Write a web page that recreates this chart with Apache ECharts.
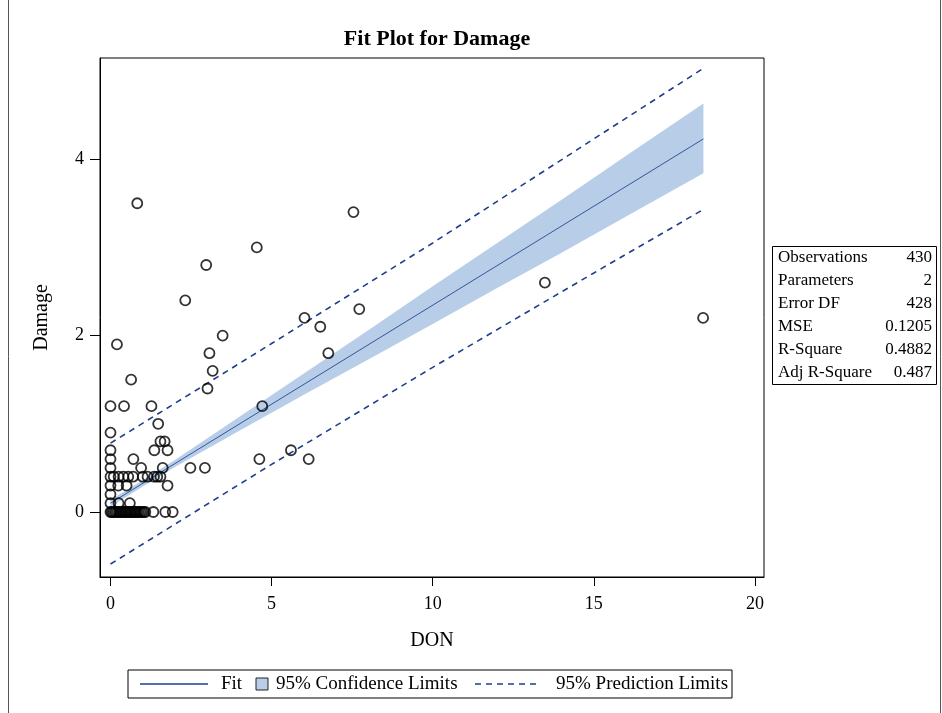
<!DOCTYPE html>
<html>
<head>
<meta charset="utf-8">
<title>Fit Plot for Damage</title>
<script src="https://cdn.jsdelivr.net/npm/echarts@6/dist/echarts.min.js"></script>
<style>
  html, body { margin: 0; padding: 0; background: #ffffff; }
  #chart { width: 942px; height: 713px; }
</style>
</head>
<body>
<div id="chart"></div>
<script>
// Observed DON / Damage pairs
const obsDON = [
  0.83, 7.54, 4.54, 2.97, 13.48, 2.32, 7.72, 6.02, 18.39, 6.51, 3.48, 0.20, 3.07, 6.76, 3.17, 0.64, 3.01,
  0, 0.42, 1.27, 4.71, 1.48, 0, 1.55, 1.68, 0, 1.36, 1.77, 5.60, 0, 0.71, 4.62, 6.15,
  0, 0.95, 1.62, 2.48, 2.93,
  0, 0.10, 0.25, 0.40, 0.55, 0.70, 1.00, 1.15, 1.35, 1.45, 1.55,
  0, 0.24, 0.50, 1.77,
  0,
  0, 0.25, 0.60,
  0, 0.04, 0.08, 0.13, 0.17, 0.22, 0.27, 0.31, 0.36, 0.41, 0.46, 0.50, 0.55, 0.60,
  0.64, 0.69, 0.74, 0.78, 0.83, 0.88, 0.93, 0.98, 1.03, 1.08, 1.33, 1.70, 1.93
];
const obsDamage = [
  3.5, 3.4, 3.0, 2.8, 2.6, 2.4, 2.3, 2.2, 2.2, 2.1, 2.0, 1.9, 1.8, 1.8, 1.6, 1.5, 1.4,
  1.2, 1.2, 1.2, 1.2, 1.0, 0.9, 0.8, 0.8, 0.7, 0.7, 0.7, 0.7, 0.6, 0.6, 0.6, 0.6,
  0.5, 0.5, 0.5, 0.5, 0.5,
  0.4, 0.4, 0.4, 0.4, 0.4, 0.4, 0.4, 0.4, 0.4, 0.4, 0.4,
  0.3, 0.3, 0.3, 0.3,
  0.2,
  0.1, 0.1, 0.1,
  0, 0, 0, 0, 0, 0, 0, 0, 0, 0, 0, 0, 0, 0,
  0, 0, 0, 0, 0, 0, 0, 0, 0, 0, 0, 0, 0
];

// Fitted regression line
const fitDON = [0, 18.4];
const fitDamage = [0.10, 4.23];

// 95% confidence band for the mean
const bandDON   = [0,    1,    2,    4,    6,    8,    10,   12,   14,   16,   18.4];
const bandLower = [0.06, 0.29, 0.51, 0.92, 1.33, 1.73, 2.13, 2.54, 2.94, 3.35, 3.84];
const bandUpper = [0.14, 0.36, 0.59, 1.08, 1.57, 2.06, 2.56, 3.05, 3.54, 4.04, 4.63];

// 95% prediction limits
const predDON   = [0,     5,    10,   15,   18.4];
const predLower = [-0.59, 0.54, 1.64, 2.71, 3.43];
const predUpper = [0.78,  1.91, 3.05, 4.23, 5.03];

// Axis tick values
const donTicks = [0, 5, 10, 15, 20];
const damageTicks = [0, 2, 4];

// Fit statistics table
const statLabels = ['Observations', 'Parameters', 'Error DF', 'MSE', 'R-Square', 'Adj R-Square'];
const statValues = ['430', '2', '428', '0.1205', '0.4882', '0.487'];

const SERIF = '"Liberation Serif", "Times New Roman", serif';
const NAVY = '#1f3f8c';
const BAND = '#b8cee8';

const pairs = (xs, ys) => xs.map((x, i) => [x, ys[i]]);

const chart = echarts.init(document.getElementById('chart'), null, { renderer: 'canvas' });

const tableGraphics = [];
tableGraphics.push({
  type: 'rect', left: 772, top: 246,
  shape: { width: 164, height: 138 },
  style: { fill: '#fff', stroke: '#000', lineWidth: 1 }
});
statLabels.forEach((lab, i) => {
  const y = 258 + i * 23;
  tableGraphics.push({
    type: 'text', x: 778, y: y,
    style: { text: lab, font: '17px ' + SERIF, fill: '#000', verticalAlign: 'middle', align: 'left' }
  });
  tableGraphics.push({
    type: 'text', x: 932, y: y,
    style: { text: statValues[i], font: '17px ' + SERIF, fill: '#000', verticalAlign: 'middle', align: 'right' }
  });
});

const legendY = 684;
const legendGraphics = [
  { type: 'rect', shape: { x: 128, y: 670, width: 604, height: 28 },
    style: { fill: '#fff', stroke: '#000', lineWidth: 1 } },
  { type: 'line', shape: { x1: 140, y1: legendY, x2: 208, y2: legendY },
    style: { stroke: NAVY, lineWidth: 1.3 } },
  { type: 'text', x: 221, y: legendY,
    style: { text: 'Fit', font: '19px ' + SERIF, fill: '#000', verticalAlign: 'middle' } },
  { type: 'rect', shape: { x: 256, y: 678, width: 12, height: 12 },
    style: { fill: BAND, stroke: '#222', lineWidth: 1 } },
  { type: 'text', x: 276, y: legendY,
    style: { text: '95% Confidence Limits', font: '19px ' + SERIF, fill: '#000', verticalAlign: 'middle' } },
  { type: 'line', shape: { x1: 475, y1: legendY, x2: 540, y2: legendY },
    style: { stroke: NAVY, lineWidth: 1.6, lineDash: [6, 5] } },
  { type: 'text', x: 556, y: legendY,
    style: { text: '95% Prediction Limits', font: '19px ' + SERIF, fill: '#000', verticalAlign: 'middle' } }
];

const option = {
  backgroundColor: '#ffffff',
  animation: false,
  title: {
    text: 'Fit Plot for Damage',
    left: 432, top: 23, textAlign: 'center',
    textStyle: { fontFamily: SERIF, fontSize: 22, fontWeight: 'bold', color: '#000' }
  },
  grid: {
    left: 100, top: 58, width: 664, height: 519,
    show: true, borderColor: '#000', borderWidth: 1, backgroundColor: 'transparent'
  },
  xAxis: {
    type: 'value', min: -0.326, max: 20.28,
    name: 'DON', nameLocation: 'middle', nameGap: 54,
    nameTextStyle: { fontFamily: SERIF, fontSize: 20, color: '#000' },
    axisLine: { show: true, onZero: false, lineStyle: { color: '#000', width: 1 } },
    axisTick: { show: true, inside: false, length: 9, customValues: donTicks, lineStyle: { color: '#000', width: 1 } },
    axisLabel: { customValues: donTicks, margin: 18, fontFamily: SERIF, fontSize: 18, color: '#000' },
    splitLine: { show: false }
  },
  yAxis: {
    type: 'value', min: -0.737, max: 5.147,
    name: 'Damage', nameLocation: 'middle', nameGap: 48, nameRotate: 90,
    nameTextStyle: { fontFamily: SERIF, fontSize: 20, color: '#000' },
    axisLine: { show: true, onZero: false, lineStyle: { color: '#000', width: 1 } },
    axisTick: { show: true, inside: false, length: 10, customValues: damageTicks, lineStyle: { color: '#000', width: 1 } },
    axisLabel: { customValues: damageTicks, margin: 16, fontFamily: SERIF, fontSize: 18, color: '#000' },
    splitLine: { show: false }
  },
  series: [
    {
      name: '95% Confidence Limits',
      type: 'custom',
      silent: true,
      z: 1,
      data: [[bandDON[0], bandLower[0]]],
      renderItem: function (params, api) {
        const pts = [];
        for (let i = 0; i < bandDON.length; i++) pts.push(api.coord([bandDON[i], bandUpper[i]]));
        for (let i = bandDON.length - 1; i >= 0; i--) pts.push(api.coord([bandDON[i], bandLower[i]]));
        return { type: 'polygon', shape: { points: pts }, style: { fill: BAND } };
      }
    },
    {
      name: 'Fit', type: 'line', z: 2,
      data: pairs(fitDON, fitDamage),
      showSymbol: false,
      lineStyle: { color: '#34559a', width: 1 }
    },
    {
      name: '95% Prediction Limits', type: 'line', z: 2,
      data: pairs(predDON, predUpper),
      showSymbol: false, smooth: false,
      lineStyle: { color: NAVY, width: 1.6, type: [6, 5] }
    },
    {
      name: '95% Prediction Limits', type: 'line', z: 2,
      data: pairs(predDON, predLower),
      showSymbol: false, smooth: false,
      lineStyle: { color: NAVY, width: 1.6, type: [6, 5] }
    },
    {
      name: 'Damage', type: 'scatter', z: 3,
      data: pairs(obsDON, obsDamage),
      symbol: 'circle', symbolSize: 10,
      itemStyle: { color: 'rgba(255,255,255,0)', borderColor: '#000', borderWidth: 1.8 }
    }
  ],
  graphic: [
    // outer frame of the figure
    { type: 'line', shape: { x1: 8.5, y1: 0, x2: 8.5, y2: 713 }, style: { stroke: '#555', lineWidth: 1 } },
    { type: 'line', shape: { x1: 940.5, y1: 0, x2: 940.5, y2: 713 }, style: { stroke: '#555', lineWidth: 1 } }
  ].concat(tableGraphics, legendGraphics)
};

chart.setOption(option);
</script>
</body>
</html>
